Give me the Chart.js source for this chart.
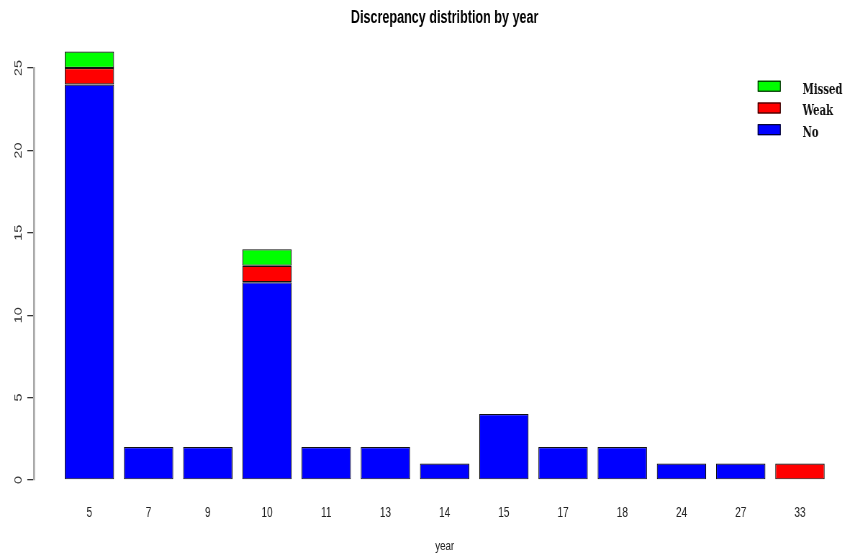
<!DOCTYPE html>
<html>
<head>
<meta charset="utf-8">
<script src="https://cdn.jsdelivr.net/npm/chart.js@4.4.1/dist/chart.umd.min.js"></script>
<style>
  html, body { margin: 0; padding: 0; background: #ffffff; overflow: hidden; }
  #c { display: block; }
</style>
</head>
<body>
<canvas id="c"></canvas>
<script>
// ---- data ----
const years = ['5', '7', '9', '10', '11', '13', '14', '15', '17', '18', '24', '27', '33'];
const noValues = [24, 2, 2, 12, 2, 2, 1, 4, 2, 2, 1, 1, 0];
const weakValues = [1, 0, 0, 1, 0, 0, 0, 0, 0, 0, 0, 0, 1];
const missedValues = [1, 0, 0, 1, 0, 0, 0, 0, 0, 0, 0, 0, 0];
const yTicks = [0, 5, 10, 15, 20, 25];
const seriesNames = ['No', 'Weak', 'Missed'];
const seriesColors = ['#0000ff', '#ff0000', '#00ff00'];
const chartTitle = 'Discrepancy distribtion by year';
const xTitle = 'year';

// The original R device output is squeezed horizontally; reproduce that by
// drawing on a wider canvas that is displayed narrower.
const SQ = 0.72;
const CW = 1188, CH = 553;
const cv = document.getElementById('c');
cv.width = CW; cv.height = CH;
cv.style.width = (CW * SQ) + 'px';
cv.style.height = CH + 'px';
const hx = v => v / SQ; // css px -> canvas px (horizontal)

const toPoints = vals => vals.map((v, i) => ({ x: i, y: v }));
const seriesValues = [noValues, weakValues, missedValues];

const datasets = seriesValues.map((vals, k) => ({
  label: seriesNames[k],
  data: toPoints(vals),
  backgroundColor: seriesColors[k],
  borderColor: '#111111',
  borderWidth: 1.2,
  borderSkipped: false,
  categoryPercentage: 1.0,
  barPercentage: 0.8333,
  clip: false
}));

const legendPlugin = {
  id: 'rLegend',
  afterDraw(chart) {
    const ctx = chart.ctx;
    const ds = chart.data.datasets.slice().reverse();
    const boxX = hx(758), boxW = hx(23), boxH = 11;
    const tops = [80.7, 102.5, 124.2];
    ctx.save();
    ctx.font = 'bold 14px "DejaVu Serif", "Liberation Serif", serif';
    ctx.textBaseline = 'alphabetic';
    ctx.textAlign = 'left';
    ds.forEach((d, i) => {
      const t = tops[i];
      ctx.fillStyle = d.backgroundColor;
      ctx.fillRect(boxX, t, boxW, boxH);
      ctx.strokeStyle = '#000';
      ctx.lineWidth = 1;
      ctx.strokeRect(boxX + 0.5, t + 0.5, boxW - 1, boxH - 1);
      ctx.fillStyle = '#111';
      ctx.fillText(d.label, hx(803), t + 12.8);
    });
    ctx.restore();
  }
};

new Chart(cv, {
  type: 'bar',
  data: { datasets },
  plugins: [legendPlugin],
  options: {
    responsive: false,
    devicePixelRatio: 1,
    animation: false,
    layout: { padding: 0 },
    plugins: {
      legend: { display: false },
      tooltip: { enabled: false },
      title: {
        display: true,
        text: chartTitle,
        fullSize: false,
        color: '#000',
        font: { family: '"Liberation Sans", Arial, sans-serif', size: 17.5, weight: 'bold', lineHeight: 1.2 },
        padding: { top: 7.5, bottom: 39.5 }
      }
    },
    scales: {
      x: {
        type: 'linear',
        stacked: true,
        offset: false,
        min: -0.93,
        max: 12.93,
        afterBuildTicks: s => { s.ticks = years.map((_, i) => ({ value: i })); },
        afterFit: s => { s.height = 73; },
        grid: { display: false, drawTicks: false },
        border: { display: false },
        ticks: {
          autoSkip: false,
          maxRotation: 0,
          minRotation: 0,
          padding: 24.5,
          color: '#222',
          font: { family: '"Liberation Sans", Arial, sans-serif', size: 14 },
          callback: v => years[v]
        },
        title: {
          display: true,
          text: xTitle,
          color: '#222',
          font: { family: '"Liberation Sans", Arial, sans-serif', size: 13.5, lineHeight: 1 },
          padding: 0
        }
      },
      y: {
        type: 'linear',
        stacked: true,
        min: 0,
        max: 25,
        afterBuildTicks: s => { s.ticks = yTicks.map(v => ({ value: v })); },
        afterFit: s => { s.width = hx(34.3); },
        grid: { display: true, drawOnChartArea: false, drawTicks: true, tickLength: hx(7), color: '#333', lineWidth: 1.3 },
        border: { display: true, color: '#a8a8a8', width: 2.6 },
        ticks: {
          minRotation: 90,
          maxRotation: 90,
          crossAlign: 'center',
          padding: 4.2,
          color: '#333',
          font: { family: '"Liberation Sans", Arial, sans-serif', size: 14.4 }
        }
      }
    }
  }
});
</script>
</body>
</html>
